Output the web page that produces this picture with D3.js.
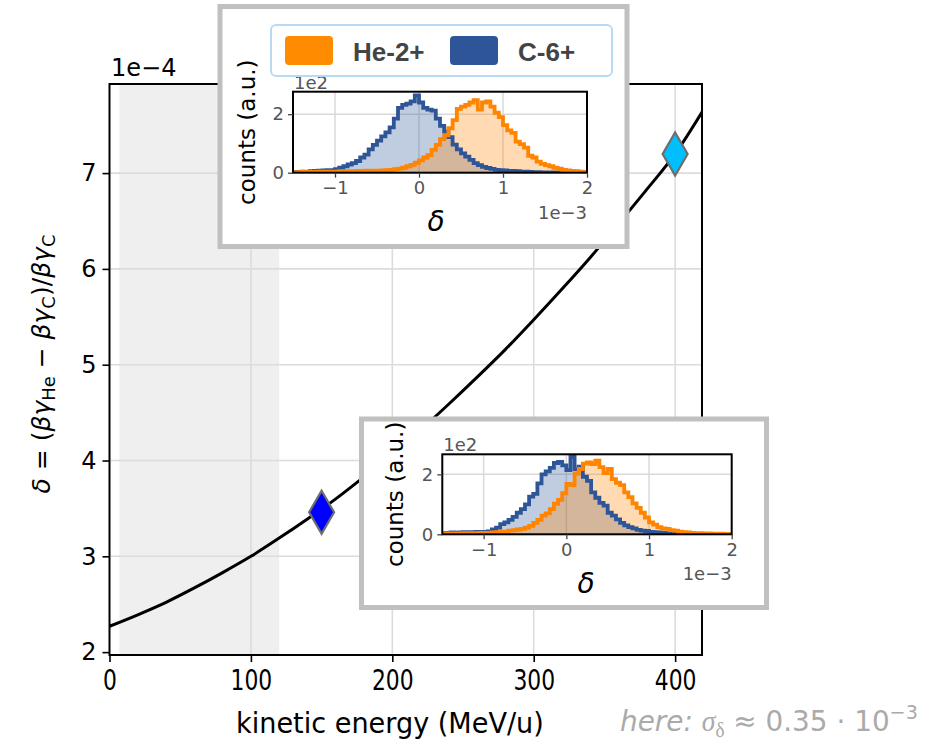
<!DOCTYPE html>
<html>
<head>
<meta charset="utf-8">
<script src="https://cdn.jsdelivr.net/npm/d3@7/dist/d3.min.js"></script>
<style>
  body { margin: 0; background: #fff; }
  svg { display: block; }
</style>
</head>
<body>
<svg id="fig" width="930" height="744"></svg>
<script>
// ---- main curve: relative beta*gamma difference He-2+ vs C-6+ (units of 1e-4) ----
const energy = [0, 20, 40, 60, 80, 100, 120, 140, 160, 180, 200, 220, 240, 260, 280, 300, 320, 340, 360, 380, 400, 420];
const delta  = [2.27, 2.39, 2.52, 2.67, 2.83, 3.00, 3.19, 3.39, 3.60, 3.83, 4.07, 4.32, 4.59, 4.87, 5.16, 5.47, 5.79, 6.12, 6.47, 6.83, 7.20, 7.66];

// operating points (MeV/u, 1e-4)
const pointEnergy = [150, 400];
const pointDelta  = [3.46, 7.20];

// shaded energy range (MeV/u)
const shadedRange = [7, 120];

const xTicks = [0, 100, 200, 300, 400];
const yTicks = [2, 3, 4, 5, 6, 7];

// ---- histograms of delta (units of 1e-3), bins of 0.05e-3 from -1.5 to 2.0 ----
const binLo = -1.5, binHi = 2.0, nBins = 70;
const histTicksX = [-1, 0, 1, 2];
const histTicksY = [0, 200];
const seriesNames = ["He-2+", "C-6+"];

// at 400 MeV/u
const he400 = [2,2,3,2,3,3,4,3,4,4, 4,5,4,5,5,6,6,7,6,7,
               7,8,9,10,12,14,17,22,27,34, 42,52,60,78,95,115,128,152,180,218,
               226,232,240,248,216,240,244,226,205,190, 163,145,136,106,98,86,58,52,38,30,
               26,22,17,14,10,8,6,5,4,3];
const c400  = [3,2,4,3,5,6,7,8,9,9, 12,17,22,28,33,40,52,62,80,95,
               110,124,138,155,185,222,232,236,244,264, 240,222,216,212,185,160,140,122,96,80,
               66,55,44,33,26,20,16,13,10,9, 8,6,6,5,4,4,3,2,2,1,
               1,1,0,1,0,0,0,0,0,0];
// at 150 MeV/u
const he150 = [2,3,2,3,3,4,3,4,4,5, 5,5,6,7,8,9,12,14,16,18,
               22,28,38,48,62,70,84,102,115,137, 168,164,203,218,236,240,234,246,224,204,
               218,184,172,164,140,124,103,88,72,56, 40,32,24,20,18,14,12,9,7,6,
               5,4,4,3,3,2,2,2,1,1];
const c150  = [4,5,6,5,6,7,6,7,8,8, 8,10,16,22,34,40,48,58,72,84,
               100,126,135,170,200,210,222,238,242,230, 214,258,218,226,192,178,140,122,105,96,
               72,62,50,38,30,24,20,15,12,11, 8,7,6,5,4,4,3,3,2,2,
               1,1,1,0,1,0,0,0,0,0];

const ORANGE = "#ff8400", BLUE = "#2e5597";
const SANS = "'DejaVu Sans', sans-serif";
const BOLD = "'Liberation Sans', Arial, sans-serif";

const svg = d3.select("#fig");
const defs = svg.append("defs");

// ================= main axes =================
const M = { left: 109.5, right: 702, top: 84, bottom: 655 };
const x = d3.scaleLinear().domain([0, 419]).range([M.left, M.right]);
const y = d3.scaleLinear().domain([1.97, 7.93]).range([M.bottom, M.top]);

defs.append("clipPath").attr("id", "mainClip")
  .append("rect").attr("x", M.left).attr("y", M.top)
  .attr("width", M.right - M.left).attr("height", M.bottom - M.top);

const main = svg.append("g");
const plot = main.append("g").attr("clip-path", "url(#mainClip)");

plot.append("rect")
  .attr("x", x(shadedRange[0])).attr("y", M.top)
  .attr("width", x(shadedRange[1]) - x(shadedRange[0]))
  .attr("height", M.bottom - M.top)
  .attr("fill", "#efefef");

plot.selectAll("line.gx").data(xTicks.slice(1)).join("line")
  .attr("x1", d => x(d)).attr("x2", d => x(d))
  .attr("y1", M.top).attr("y2", M.bottom)
  .attr("stroke", "#dcdcdc").attr("stroke-width", 1.6);
plot.selectAll("line.gy").data(yTicks.slice(1)).join("line")
  .attr("x1", M.left).attr("x2", M.right)
  .attr("y1", d => y(d)).attr("y2", d => y(d))
  .attr("stroke", "#dcdcdc").attr("stroke-width", 1.6);

const curve = d3.line().x((d, i) => x(energy[i])).y(d => y(d)).curve(d3.curveMonotoneX);
plot.append("path").attr("d", curve(delta))
  .attr("fill", "none").attr("stroke", "#000").attr("stroke-width", 3);

const pointColor = ["#0000ff", "#00bfff"];
main.selectAll("path.pt").data(pointEnergy).join("path")
  .attr("transform", (d, i) => `translate(${x(d)},${y(pointDelta[i])})`)
  .attr("d", "M0,-21.5L12.5,0L0,21.5L-12.5,0Z")
  .attr("fill", (d, i) => pointColor[i])
  .attr("stroke", "#6e6e6e").attr("stroke-width", 2.2).attr("stroke-linejoin", "miter");

main.append("rect")
  .attr("x", M.left).attr("y", M.top)
  .attr("width", M.right - M.left).attr("height", M.bottom - M.top)
  .attr("fill", "none").attr("stroke", "#000").attr("stroke-width", 2);

// x axis (condensed digits)
const xAxis = main.append("g").attr("transform", `translate(0,${M.bottom})`)
  .call(d3.axisBottom(x).tickValues(xTicks).tickSize(7).tickPadding(8).tickSizeOuter(0));
xAxis.select(".domain").remove();
xAxis.selectAll(".tick line").attr("stroke", "#000").attr("stroke-width", 1.6);
xAxis.selectAll(".tick text")
  .attr("font-family", SANS).attr("font-size", 28).attr("fill", "#000")
  .attr("transform", "scale(0.78,1)");

// y axis
const yAxis = main.append("g").attr("transform", `translate(${M.left},0)`)
  .call(d3.axisLeft(y).tickValues(yTicks).tickSize(7).tickPadding(6).tickSizeOuter(0)
    .tickFormat(d3.format("d")));
yAxis.select(".domain").remove();
yAxis.selectAll(".tick line").attr("stroke", "#000").attr("stroke-width", 1.6);
yAxis.selectAll(".tick text")
  .attr("font-family", SANS).attr("font-size", 24).attr("fill", "#000");

// axis offset text
main.append("text").attr("x", 111).attr("y", 76)
  .attr("font-family", SANS).attr("font-size", 24).text("1e\u22124");

// horizontally condensed text: squeeze a text element to a target width
function condense(sel, cx, baseline, width, anchor) {
  sel.attr("x", 0).attr("y", 0);
  const w = sel.node().getComputedTextLength();
  const sx = width / w;
  const left = anchor === "middle" ? cx - width / 2 : cx;
  sel.attr("transform", `translate(${left},${baseline}) scale(${sx},1)`);
}

// x label
const xl = main.append("text")
  .attr("font-family", SANS).attr("font-size", 28)
  .text("kinetic energy (MeV/u)");
condense(xl, 390, 733, 308, "middle");

// y label
const yl = main.append("text")
  .attr("transform", "translate(50,364) rotate(-90)")
  .attr("text-anchor", "middle")
  .attr("font-family", SANS).attr("font-size", 25);
const subParts = [
  ["\u03b4", "italic", null], [" = (", null, null], ["\u03b2\u03b3", "italic", null], ["He", null, "sub"],
  [" \u2212 ", null, null], ["\u03b2\u03b3", "italic", null], ["C", null, "sub"],
  [")/", null, null], ["\u03b2\u03b3", "italic", null], ["C", null, "sub"]
];
subParts.forEach(([t, st, sh], i) => {
  const ts = yl.append("tspan").text(t);
  if (st) ts.attr("font-style", st);
  const prev = subParts[i - 1];
  if (sh) ts.attr("font-size", 18).attr("dy", 5);
  else if (prev && prev[2] === "sub") ts.attr("dy", -5);
});

// annotation
const note = svg.append("text")
  .attr("font-family", SANS).attr("font-size", 29).attr("fill", "#aaaaaa");
note.append("tspan").attr("font-style", "italic").text("here: ");
note.append("tspan").attr("font-family", "'Liberation Serif', serif").attr("font-style", "italic").text("\u03c3");
note.append("tspan").attr("font-family", "'Liberation Serif', serif").attr("font-size", 20).attr("dy", 6).text("\u03b4");
note.append("tspan").attr("dy", -6).text(" \u2248 0.35 \u00b7 10");
note.append("tspan").attr("font-size", 20).attr("dy", -12).text("\u22123");
condense(note, 620, 731, 298, "start");

// ================= insets =================
const edges = d3.range(nBins + 1).map(i => binLo + (binHi - binLo) * i / nBins);

function drawInset(cfg) {
  const g = svg.append("g");
  g.append("rect")
    .attr("x", cfg.frame[0]).attr("y", cfg.frame[1])
    .attr("width", cfg.frame[2]).attr("height", cfg.frame[3])
    .attr("fill", "#fff").attr("stroke", "#c0c0c0").attr("stroke-width", 5);

  const [L, T, R, B] = cfg.axes;
  const hx = d3.scaleLinear().domain([binLo, binHi]).range([L, R]);
  const hy = d3.scaleLinear().domain([0, cfg.ymax]).range([B, T]);
  const id = "clip" + cfg.key;
  defs.append("clipPath").attr("id", id)
    .append("rect").attr("x", L).attr("y", T).attr("width", R - L).attr("height", B - T);
  const p = g.append("g").attr("clip-path", `url(#${id})`);

  p.selectAll("line.gx").data(histTicksX).join("line")
    .attr("x1", d => hx(d)).attr("x2", d => hx(d)).attr("y1", T).attr("y2", B)
    .attr("stroke", "#d9d9d9").attr("stroke-width", 1.5);
  p.selectAll("line.gy").data(histTicksY).join("line")
    .attr("x1", L).attr("x2", R).attr("y1", d => hy(d)).attr("y2", d => hy(d))
    .attr("stroke", "#d9d9d9").attr("stroke-width", 1.5);

  const stepPts = counts => {
    const pts = counts.map((c, i) => [edges[i], c]);
    pts.push([edges[nBins], counts[nBins - 1]]);
    return pts;
  };
  const area = d3.area().x(d => hx(d[0])).y0(hy(0)).y1(d => hy(d[1])).curve(d3.curveStepAfter);
  const line = d3.line().x(d => hx(d[0])).y(d => hy(d[1])).curve(d3.curveStepAfter);

  const series = [[cfg.c, BLUE], [cfg.he, ORANGE]];
  series.forEach(([c, col]) => {
    p.append("path").attr("d", area(stepPts(c))).attr("fill", col).attr("fill-opacity", 0.3);
  });
  series.forEach(([c, col]) => {
    p.append("path").attr("d", line(stepPts(c))).attr("fill", "none")
      .attr("stroke", col).attr("stroke-width", 3.8).attr("stroke-linejoin", "miter");
  });

  g.append("rect").attr("x", L).attr("y", T).attr("width", R - L).attr("height", B - T)
    .attr("fill", "none").attr("stroke", "#000").attr("stroke-width", 2);

  const ax = g.append("g").attr("transform", `translate(0,${B})`)
    .call(d3.axisBottom(hx).tickValues(histTicksX).tickSize(5).tickPadding(4)
      .tickFormat(d => d < 0 ? "\u2212" + Math.abs(d) : String(d)));
  ax.select(".domain").remove();
  ax.selectAll(".tick line").attr("stroke", "#444").attr("stroke-width", 1.3);
  ax.selectAll(".tick text").attr("font-family", SANS).attr("font-size", 18).attr("fill", "#555");

  const ay = g.append("g").attr("transform", `translate(${L},0)`)
    .call(d3.axisLeft(hy).tickValues(histTicksY).tickSize(5).tickPadding(4).tickFormat(d => d / 100));
  ay.select(".domain").remove();
  ay.selectAll(".tick line").attr("stroke", "#444").attr("stroke-width", 1.3);
  ay.selectAll(".tick text").attr("font-family", SANS).attr("font-size", 18).attr("fill", "#555");

  g.append("text").attr("x", L + 1).attr("y", T - 3)
    .attr("font-family", SANS).attr("font-size", 18).attr("fill", "#555").text("1e2");
  g.append("text").attr("x", R).attr("y", cfg.expY).attr("text-anchor", "end")
    .attr("font-family", SANS).attr("font-size", 18).attr("fill", "#555").text("1e\u22123");
  g.append("text").attr("x", cfg.dX).attr("y", cfg.dY).attr("text-anchor", "middle")
    .attr("font-family", SANS).attr("font-style", "italic").attr("font-size", 28).text("\u03b4");
  g.append("text").attr("transform", `translate(${cfg.cX},${(T + B) / 2}) rotate(-90)`)
    .attr("text-anchor", "middle").attr("font-family", SANS).attr("font-size", 23)
    .text("counts (a.u.)");
  return g;
}

const upperInset = drawInset({
  key: "a", frame: [220, 6.5, 407, 240], axes: [293, 91.7, 587, 172.7], ymax: 277,
  he: he400, c: c400, expY: 219, dX: 436, dY: 231, cX: 255
});
drawInset({
  key: "b", frame: [361.5, 419, 405, 188.5], axes: [442.3, 454.3, 731.7, 534.3], ymax: 267,
  he: he150, c: c150, expY: 580, dX: 586, dY: 593, cX: 403
});

// legend in upper inset
const leg = upperInset.append("g");
leg.append("rect").attr("x", 271).attr("y", 25).attr("width", 341).attr("height", 51).attr("rx", 5)
  .attr("fill", "#fff").attr("stroke", "#b5dcf4").attr("stroke-width", 2);
const legX = [285, 450], legTX = [353, 518], legCol = ["#ff8c00", BLUE];
seriesNames.forEach((name, i) => {
  leg.append("rect").attr("x", legX[i]).attr("y", 36).attr("width", 48).attr("height", 29).attr("rx", 4)
    .attr("fill", legCol[i]);
  leg.append("text").attr("x", legTX[i]).attr("y", 61)
    .attr("font-family", BOLD).attr("font-weight", "bold").attr("font-size", 26).attr("fill", "#444")
    .text(name);
});
</script>
</body>
</html>
